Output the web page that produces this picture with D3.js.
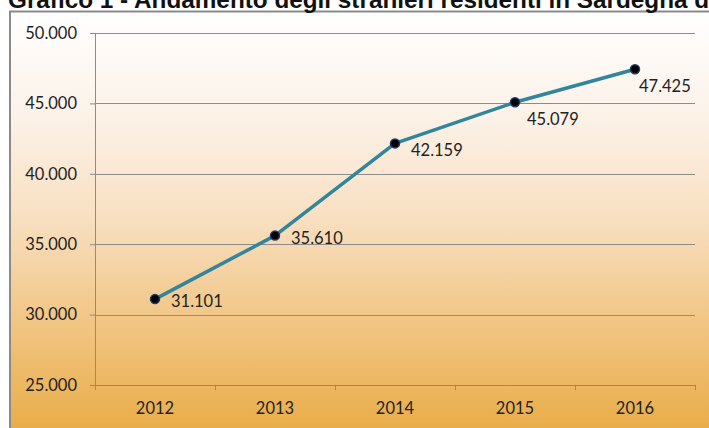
<!DOCTYPE html>
<html><head><meta charset="utf-8">
<script src="https://cdn.jsdelivr.net/npm/d3@7"></script>
<style>html,body{margin:0;padding:0;background:#fff;}svg{display:block;}</style>
</head><body>
<svg id="c" width="709" height="428"></svg>
<script>
const years = ["2012","2013","2014","2015","2016"];
const values = [31101, 35610, 42159, 45079, 47425];
const valueLabels = ["31.101","35.610","42.159","45.079","47.425"];
const labelPlacement = ["right","right","right","below","below"];
const yTicks = [25000, 30000, 35000, 40000, 45000, 50000];
const yTickLabels = ["25.000","30.000","35.000","40.000","45.000","50.000"];
const title = "Grafico 1 - Andamento degli stranieri residenti in Sardegna dal 2012 al 2016";

const svg = d3.select("#c");
const W = 709, H = 428;
const defs = svg.append("defs");
const g = defs.append("linearGradient").attr("id","bg").attr("x1",0).attr("y1",0).attr("x2",0).attr("y2",1);
[[0,"#ffffff"],[0.25,"#fcf2e8"],[0.5,"#f8dfc0"],[0.75,"#f1c583"],[1,"#e9ad4a"]].forEach(([o,c])=>g.append("stop").attr("offset",o).attr("stop-color",c));

// frame
svg.append("rect").attr("x",10).attr("y",12).attr("width",W-10).attr("height",H-12).attr("fill","url(#bg)");
svg.append("line").attr("x1",10).attr("x2",10).attr("y1",11).attr("y2",H).attr("stroke","#8a8a8a").attr("stroke-width",2);
svg.append("line").attr("x1",9).attr("x2",W).attr("y1",11.5).attr("y2",11.5).attr("stroke","#8a8a8a").attr("stroke-width",2);

// title (cropped at top, as in the reference)
svg.append("text").attr("x",8).attr("y",7.5).text(title)
  .attr("font-family","Liberation Sans, Arial, sans-serif").attr("font-weight","bold").attr("font-size",24.3).attr("fill","#111");

const x = d3.scaleBand().domain(years).range([95,695]).padding(0);
const y = d3.scaleLinear().domain([25000,50000]).range([385,33]);
const font = "Lato, 'Open Sans', sans-serif";

// gridlines + y ticks
const yAxis = d3.axisLeft(y).tickValues(yTicks).tickFormat((d,i)=>yTickLabels[i]).tickSize(5).tickPadding(13);
const ya = svg.append("g").attr("transform","translate(95,0)").call(yAxis);
ya.select(".domain").remove();
ya.selectAll(".tick line").attr("stroke","#8c8c8c");
ya.selectAll(".tick text").attr("font-family",font).attr("font-size",16.5).attr("fill","#222");
svg.append("g").selectAll("line").data(yTicks).join("line")
  .attr("x1",95).attr("x2",695).attr("y1",d=>Math.round(y(d))+0.5).attr("y2",d=>Math.round(y(d))+0.5)
  .attr("stroke","#8c8c8c").attr("stroke-width",1);
svg.append("line").attr("x1",95.5).attr("x2",95.5).attr("y1",33).attr("y2",390).attr("stroke","#8c8c8c");

// x axis
const xa = svg.append("g").attr("transform","translate(0,385)").call(d3.axisBottom(x).tickSize(0).tickPadding(17));
xa.select(".domain").remove();
xa.selectAll(".tick text").attr("font-family",font).attr("font-size",16.5).attr("fill","#222");
const bounds = years.map(d=>x(d)).concat([x.range()[1]]);
svg.append("g").selectAll("line").data(bounds).join("line")
  .attr("x1",d=>Math.round(d)+0.5).attr("x2",d=>Math.round(d)+0.5).attr("y1",385).attr("y2",390).attr("stroke","#8c8c8c");

// line
const cx = d=>x(d)+x.bandwidth()/2;
const line = d3.line().x((d,i)=>cx(years[i])).y(d=>y(d));
svg.append("path").datum(values).attr("d",line).attr("fill","none").attr("stroke","#31859c").attr("stroke-width",3.5).attr("stroke-linejoin","round");
svg.append("g").selectAll("circle").data(values).join("circle")
  .attr("cx",(d,i)=>cx(years[i])).attr("cy",d=>y(d)).attr("r",4.5)
  .attr("fill","#000").attr("stroke","#1f3a6e").attr("stroke-width",1.5);

// labels
svg.append("g").selectAll("text").data(values).join("text")
  .attr("x",(d,i)=>labelPlacement[i]==="right"? cx(years[i])+16 : cx(years[i])+(i===4?4:12))
  .attr("y",(d,i)=>labelPlacement[i]==="right"? y(d)+ (i===2?13:8) : y(d)+23)
  .text((d,i)=>valueLabels[i])
  .attr("font-family",font).attr("font-size",16.5).attr("fill","#222");
</script>
</body></html>
